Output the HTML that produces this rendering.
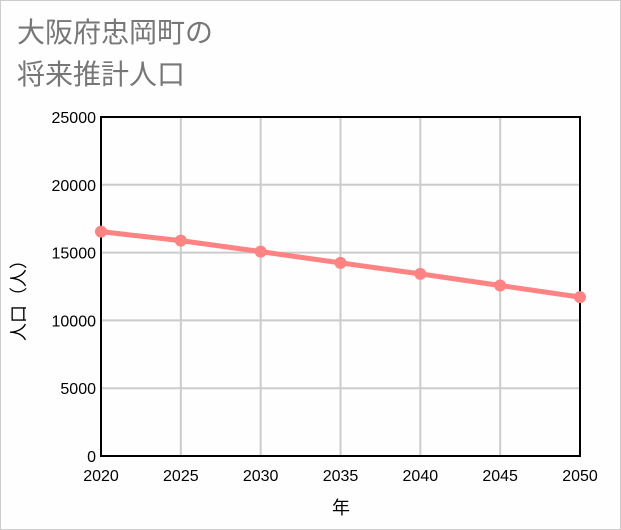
<!DOCTYPE html>
<html><head><meta charset="utf-8"><style>
body{margin:0;background:#fff;}
#wrap{position:relative;width:619px;height:528px;border:1px solid #ccc;background:#fdfefd;font-family:"Liberation Sans","Noto Sans CJK JP",sans-serif;}
.title{position:absolute;left:16px;font-size:28px;line-height:32px;color:#777;}
</style></head><body>
<div id="wrap">
<div class="title" style="top:16px">大阪府忠岡町の</div>
<div class="title" style="top:58px">将来推計人口</div>
<svg id="chart" width="619" height="528" style="position:absolute;left:0;top:0"></svg>
</div>
<script>
const years=[2020,2025,2030,2035,2040,2045,2050];
const population=[16544,15882,15074,14240,13431,12574,11715];
const yTicks=[0,5000,10000,15000,20000,25000];
const NS="http://www.w3.org/2000/svg";
const svg=document.getElementById('chart');
const L=100,R=579,T=116,B=455;
const xs=v=>L+(v-2020)/30*(R-L);
const ys=v=>B-v/25000*(B-T);
function mk(tag,attrs,parent){const e=document.createElementNS(NS,tag);for(const k in attrs)e.setAttribute(k,attrs[k]);(parent||svg).appendChild(e);return e;}
const grid=mk('g',{});


years.forEach(y=>{const l=mk('line',{x1:xs(y),x2:xs(y),y1:T,y2:B,stroke:'#ccc','stroke-width':2},grid);


const t=mk('text',{x:xs(y),y:480,'text-anchor':'middle','font-size':16,fill:'#000','font-family':'Liberation Sans, sans-serif'});t.textContent=y;

});
yTicks.forEach(v=>{const l=mk('line',{x1:L,x2:R,y1:ys(v),y2:ys(v),stroke:'#ccc','stroke-width':2},grid);


const t=mk('text',{x:95,y:ys(v)+6,'text-anchor':'end','font-size':16,fill:'#000','font-family':'Liberation Sans, sans-serif'});t.textContent=v;

});
const ax=mk('rect',{x:L,y:T,width:R-L,height:B-T,fill:'none',stroke:'#000','stroke-width':2});


const line=mk('polyline',{points:years.map((y,i)=>xs(y)+','+ys(population[i])).join(' '),fill:'none',stroke:'#ff8383','stroke-width':5});


years.forEach((y,i)=>{const c=mk('circle',{cx:xs(y),cy:ys(population[i]),r:6,fill:'#ff8383'});

});
const xt=mk('text',{x:340,y:513,'text-anchor':'middle','font-size':18,fill:'#000','font-family':'Liberation Sans, Noto Sans CJK JP, sans-serif'});xt.textContent='年';


const yt=mk('text',{x:0,y:0,'text-anchor':'middle','font-size':18,fill:'#000','font-family':'Liberation Sans, Noto Sans CJK JP, sans-serif',transform:'translate(24,295) rotate(-90)'});yt.textContent='人口（人）';


</script>
</body></html>
